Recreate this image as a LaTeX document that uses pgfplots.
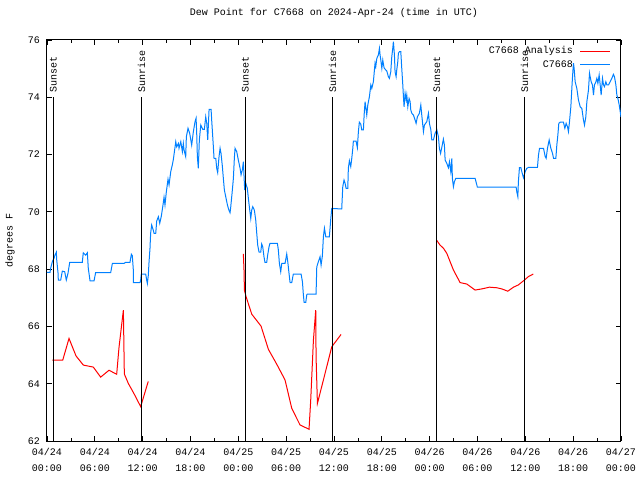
\documentclass[border=0pt]{standalone}
\usepackage{pgfplots}
\pgfplotsset{compat=1.18}
\usepackage{fontspec}
\setmainfont{Liberation Mono}
\definecolor{dpblue}{RGB}{0,128,255}
\definecolor{dpred}{RGB}{255,0,0}
\newcommand{\gf}{\fontsize{10bp}{16bp}\selectfont}
\begin{document}
\begin{tikzpicture}
\path[use as bounding box] (0,0) rectangle (640bp,480bp);
\begin{axis}[
  at={(47bp,39bp)}, anchor=south west,
  width=574bp, height=401bp, scale only axis,
  xmin=0, xmax=72, ymin=62, ymax=76,
  xtick={0,6,...,72},
  xticklabels={{04/24\\00:00},{04/24\\06:00},{04/24\\12:00},{04/24\\18:00},{04/25\\00:00},{04/25\\06:00},{04/25\\12:00},{04/25\\18:00},{04/26\\00:00},{04/26\\06:00},{04/26\\12:00},{04/26\\18:00},{04/27\\00:00}},
  minor xtick={3,9,...,69},
  ytick={62,64,...,76},
  tick align=inside,
  major tick length=5bp, minor tick length=3bp,
  tick style={black, line width=0.8bp},
  axis line style={line width=1bp},
  /pgf/number format/assume math mode=true,
  xticklabel style={align=center, font=\gf, inner sep=0pt, anchor=north, yshift=-7.5bp},
  yticklabel style={font=\gf, inner sep=0pt, anchor=east, xshift=-7bp},
  title={Dew Point for C7668 on 2024-Apr-24 (time in UTC)},
  title style={at={(axis description cs:0.5,1)}, anchor=center, yshift=21bp, font=\gf, inner sep=0pt},
  ylabel={degrees F},
  ylabel style={at={(axis description cs:-0.0645,0.5)}, anchor=center, font=\gf, inner sep=0pt},
  legend style={at={(axis description cs:1,1)}, anchor=north east, xshift=-10bp, yshift=-5.5bp, draw=none, fill=none, font=\gf, inner sep=0pt, nodes={inner sep=1bp}, column sep=6bp, row sep=3bp},
  legend cell align=right, legend plot pos=right,
  legend image code/.code={\draw[#1] (0bp,0bp) -- (30bp,0bp);},
  unbounded coords=jump,
]
\addplot[dpred, line width=1bp] coordinates {
(0.67,64.82) (1.97,64.82) (2.76,65.58) (3.64,64.97) (4.56,64.65) (5.81,64.58) (6.73,64.23) (7.78,64.47) (8.74,64.33) (9.03,65.26) (9.58,66.57) (9.7,64.34) (10.2,64.01) (10.9,63.66) (11.75,63.20) (12.7,64.08)
(18,nan)
(24.63,68.53) (24.72,67.91) (24.76,67.27) (24.97,67.04) (25.68,66.43) (26.85,66.01) (27.77,65.20) (28.82,64.68) (29.86,64.13) (30.70,63.14) (31.74,62.56) (32.87,62.41) (33.08,63.43) (33.42,65.53) (33.71,66.57) (33.75,64.94) (33.92,63.31) (34.67,64.13) (35.72,65.29) (36.89,65.72)
(42,nan)
(48.9,69.0) (49.3,68.84) (49.73,68.73) (50.15,68.55) (50.98,67.97) (51.82,67.53) (52.66,67.48) (53.70,67.27) (54.54,67.31) (55.50,67.37) (56.42,67.35) (57.05,67.31) (57.80,67.23) (58.51,67.37) (59.13,67.45) (59.89,67.62) (60.39,67.74) (61.0,67.83)
};
\addlegendentry{C7668 Analysis}
\addplot[dpblue, line width=1bp] coordinates {
(0,67.89) (0.38,67.89) (0.46,68.03) (0.67,68.26) (0.88,68.38) (1.0,68.49) (1.17,68.59) (1.22,68.32) (1.38,67.88) (1.42,67.62) (1.72,67.62) (1.92,67.93) (2.22,67.91) (2.42,67.62) (2.63,67.85) (2.85,68.24) (4.43,68.24) (4.55,68.57) (4.85,68.49) (5.06,68.57) (5.18,68.03) (5.4,67.59) (5.9,67.59) (6.1,67.88) (7.99,67.88) (8.2,68.20) (9.66,68.20) (9.87,68.24) (10.41,68.24) (10.58,68.52) (10.7,68.47) (10.83,67.97) (10.83,67.53) (11.67,67.53) (11.75,67.62) (11.83,67.83) (12.38,67.83) (12.5,67.62) (12.59,67.50) (12.71,67.79) (12.8,68.26) (12.92,68.73) (13.0,69.25) (13.13,69.54) (13.3,69.39) (13.43,69.25) (13.64,69.25) (13.76,69.68) (13.97,69.83) (14.14,69.60) (14.34,69.85) (14.52,70.18) (14.68,70.51) (14.8,70.24) (14.97,70.70) (15.18,71.14) (15.31,70.94) (15.52,71.40) (15.72,71.64) (15.85,71.83) (16.02,72.18) (16.15,72.45) (16.27,72.27) (16.48,72.39) (16.56,72.22) (16.78,72.45) (16.98,72.10) (17.1,72.39) (17.19,72.16) (17.4,71.93) (17.48,72.62) (17.69,72.92) (17.9,72.74)
(18.15,72.33) (18.36,72.80) (18.57,73.15) (18.7,73.27) (18.78,72.74) (18.86,71.93) (18.98,71.52) (19.11,72.51) (19.29,73.03) (19.54,72.88) (19.74,72.88) (19.91,73.32) (20.04,73.09) (20.16,72.51) (20.33,73.58) (20.58,73.58) (20.67,73.15) (20.87,72.27) (20.95,71.87) (21.17,71.87) (21.29,71.52) (21.41,71.37) (21.58,71.93) (21.71,72.22) (21.83,72.04) (22.0,71.58) (22.12,71.17) (22.25,70.76) (22.42,70.53) (22.63,70.24) (22.84,70.04) (22.96,69.97) (23.05,70.18) (23.25,70.76) (23.38,71.17) (23.5,71.87) (23.59,72.22) (23.8,72.10) (24.0,71.81) (24.22,71.52) (24.34,71.29) (24.5,71.46) (24.63,71.75) (24.72,71.21) (24.8,70.76) (24.93,71.0) (25.13,70.82) (25.26,70.47) (25.38,70.18) (25.56,69.77) (25.68,70.06) (25.81,70.18) (26.01,70.06) (26.18,69.72) (26.31,69.25) (26.43,68.84) (26.6,68.59) (26.81,68.59) (26.93,68.88) (27.06,68.78) (27.22,68.43) (27.34,68.24) (27.56,68.24) (27.68,68.49) (27.85,68.78) (27.97,68.90) (28.9,68.90) (29.02,68.67) (29.15,68.20) (29.32,67.91) (29.45,68.20) (29.86,68.20) (30.07,68.53) (30.2,68.26) (30.36,67.85) (30.49,67.53) (30.7,67.53) (30.9,67.83) (31.87,67.83) (32.04,67.56) (32.16,67.10) (32.25,66.84) (32.46,66.84) (32.58,67.10) (32.66,67.13) (33.75,67.13) (33.84,68.08) (34.04,68.26) (34.25,68.43) (34.38,68.14) (34.54,68.46) (34.67,69.13) (34.80,69.43) (34.97,69.13) (35.42,69.13) (35.6,69.77) (35.72,70.12)
(36.97,70.10) (37.1,70.88) (37.26,71.11) (37.39,71.0) (37.52,70.82) (37.73,70.82) (37.8,71.52) (37.93,71.78) (38.1,71.58) (38.23,71.87) (38.36,72.22) (38.43,72.47) (38.77,72.47) (38.93,72.24) (39.06,72.80) (39.18,73.13) (39.36,73.06) (39.48,72.86) (39.69,72.86) (39.78,73.38) (39.9,73.85) (40.03,73.56) (40.11,73.38) (40.24,73.73) (40.44,74.02) (40.62,74.43) (40.74,74.31) (40.94,74.54) (41.07,74.95) (41.15,75.19) (41.24,75.07) (41.37,75.36) (41.57,75.48) (41.70,75.71) (41.78,75.48) (41.87,75.30) (42.0,75.01) (42.12,75.30) (42.28,75.03) (42.5,74.95) (42.62,74.92) (42.82,74.72) (42.95,74.66) (43.12,74.89) (43.25,75.42) (43.37,75.71) (43.45,75.94) (43.58,75.48) (43.66,74.89) (43.79,74.72) (43.87,74.95) (44.0,75.24) (44.08,75.54) (44.2,75.59) (44.38,75.59) (44.5,75.01) (44.63,74.43) (44.71,74.02) (44.79,73.67) (44.92,74.14) (45.05,73.91) (45.13,74.08) (45.26,73.67) (45.42,73.96) (45.55,73.85) (45.63,73.56) (45.76,73.44) (45.96,73.38) (46.17,73.21) (46.3,73.09) (46.46,73.32) (46.71,73.44) (46.89,73.73) (47.01,73.38) (47.22,72.80) (47.34,73.03) (47.64,73.15) (47.85,73.44) (47.97,73.09) (48.15,72.86) (48.27,72.51) (48.47,72.51) (48.68,72.74) (48.9,72.86) (49.1,72.62) (49.22,72.22)
(49.37,72.04) (49.58,72.33) (49.72,72.54) (49.85,72.33) (49.94,71.81) (50.15,71.69) (50.35,71.54) (50.48,71.75) (50.65,71.40) (50.78,71.87) (50.85,71.17) (50.98,70.88) (51.1,71.05) (51.28,71.17) (53.70,71.17) (53.99,70.86) (58.85,70.86) (58.93,70.70) (59.06,70.53) (59.13,71.05) (59.26,71.54) (59.44,71.54) (59.56,71.40) (59.77,71.19) (59.98,71.40) (60.18,71.52) (60.39,71.55) (61.52,71.55) (61.65,71.98) (61.78,72.22) (62.28,72.22) (62.49,71.93) (62.61,71.87) (62.78,72.22) (62.99,72.51) (63.2,72.22) (63.41,72.04) (63.54,71.87) (63.83,71.87) (63.95,72.33) (64.08,72.68) (64.2,73.09) (64.37,73.13) (64.78,73.13) (64.96,72.92) (65.12,73.09) (65.29,72.97) (65.41,72.80) (65.54,73.15) (65.71,73.67) (65.87,74.49) (65.96,74.89) (66.04,75.19) (66.12,75.01) (66.25,74.54) (66.46,74.31) (66.66,73.91) (66.88,73.67) (67.09,73.61) (67.29,73.21) (67.42,73.03) (67.59,73.32) (67.72,73.85) (67.92,74.25) (68.05,74.84) (68.13,74.72) (68.26,74.54) (68.42,74.43) (68.55,74.08) (68.67,74.43) (68.85,74.54) (68.97,74.66) (69.1,74.49) (69.26,74.78) (69.39,74.43) (69.51,74.08) (69.68,74.66) (69.81,74.43) (69.93,74.37) (70.1,74.54) (70.23,74.43) (70.43,74.43) (70.64,74.54) (70.85,74.66) (71.05,74.80) (71.18,74.72) (71.36,74.43) (71.48,74.08) (71.61,73.96) (71.78,73.73) (71.9,73.50) (72.0,73.32)
};
\addlegendentry{C7668}
\addplot[black, line width=1bp, forget plot] coordinates {(0.8,62) (0.8,74.01)};
\addplot[black, line width=1bp, forget plot] coordinates {(11.85,62) (11.85,74.01)};
\addplot[black, line width=1bp, forget plot] coordinates {(24.87,62) (24.87,74.01)};
\addplot[black, line width=1bp, forget plot] coordinates {(35.83,62) (35.83,74.01)};
\addplot[black, line width=1bp, forget plot] coordinates {(48.9,62) (48.9,74.01)};
\addplot[black, line width=1bp, forget plot] coordinates {(59.9,62) (59.9,74.01)};
\node[rotate=90, anchor=west, inner sep=0pt, font=\gf] at (axis cs:0.8,74.15) {Sunset};
\node[rotate=90, anchor=west, inner sep=0pt, font=\gf] at (axis cs:11.85,74.15) {Sunrise};
\node[rotate=90, anchor=west, inner sep=0pt, font=\gf] at (axis cs:24.87,74.15) {Sunset};
\node[rotate=90, anchor=west, inner sep=0pt, font=\gf] at (axis cs:35.83,74.15) {Sunrise};
\node[rotate=90, anchor=west, inner sep=0pt, font=\gf] at (axis cs:48.9,74.15) {Sunset};
\node[rotate=90, anchor=west, inner sep=0pt, font=\gf] at (axis cs:59.9,74.15) {Sunrise};
\end{axis}
\end{tikzpicture}
\end{document}
